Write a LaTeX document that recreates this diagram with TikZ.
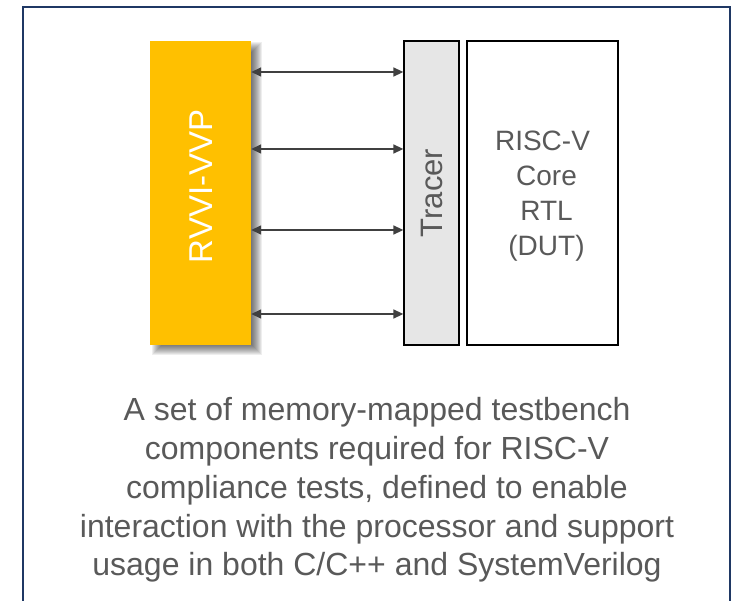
\documentclass[tikz,border=0pt]{standalone}
\usepackage{fontspec}
\setmainfont{Liberation Sans}
\usetikzlibrary{arrows.meta}
\definecolor{frameblue}{HTML}{1F3864}
\definecolor{vvpyellow}{HTML}{FFC000}
\definecolor{tracergray}{HTML}{E6E6E6}
\definecolor{textgray}{HTML}{595959}
\definecolor{linkgray}{HTML}{404040}
\begin{document}
\begin{tikzpicture}[x=1pt,y=-1pt,
  blockbox/.style={draw=black, line width=1.3pt, inner sep=0pt, minimum height=304pt},
  link/.style={draw=linkgray, line width=1.5pt,
    {Triangle[length=10pt,width=9pt]}-{Triangle[length=10pt,width=9pt]}},
  bigtext/.style={text=textgray, font=\fontsize{28}{35}\selectfont, align=center, inner sep=0pt}]
\useasboundingbox (0,0) rectangle (736,601);

% outer frame, open at the bottom
\draw[frameblue, line width=2.6pt] (23,601) -- (23,7) -- (730,7) -- (730,601);

% soft shadow behind the VVP block
\foreach \r in {-5,...,5}
  \fill[black, opacity=0.065] (157-\r,47-\r) rectangle (257+\r,350+\r);

% blocks
\node[fill=vvpyellow, inner sep=0pt, minimum width=101pt, minimum height=304pt] (vvp) at (200.5,193) {};
\node[rotate=90, inner sep=0pt, text=white, font=\fontsize{33}{38}\selectfont] (vvplabel) at (201,186.3) {RVVI-VVP};
\node[blockbox, fill=tracergray, rotate=90, minimum width=304pt, minimum height=55pt,
      text=textgray, font=\fontsize{31}{36}\selectfont] (tracer) at (431.5,193) {Tracer};
\node[draw=black, line width=1.3pt, inner sep=0pt, minimum width=151pt, minimum height=304pt] (rtl) at (542.5,193) {};
\node[bigtext] (rtltext) at (546.5,196.5) {RISC-V\hspace*{8pt}\\Core\\RTL\\(DUT)};

% links between the VVP and the tracer
\draw[link] (vvp.east |- 0,72) -- (tracer.north |- 0,72);
\draw[link] (vvp.east |- 0,149) -- (tracer.north |- 0,149);
\draw[link] (vvp.east |- 0,230) -- (tracer.north |- 0,230);
\draw[link] (vvp.east |- 0,314) -- (tracer.north |- 0,314);

% description
\node[text=textgray, font=\fontsize{32}{38.8}\selectfont, align=center, inner sep=0pt] (desc) at (377,490)
  {A set of memory-mapped testbench\\components required for RISC-V\\compliance tests, defined to enable\\interaction with the processor and support\\usage in both C/C++ and SystemVerilog};
\end{tikzpicture}
\end{document}
